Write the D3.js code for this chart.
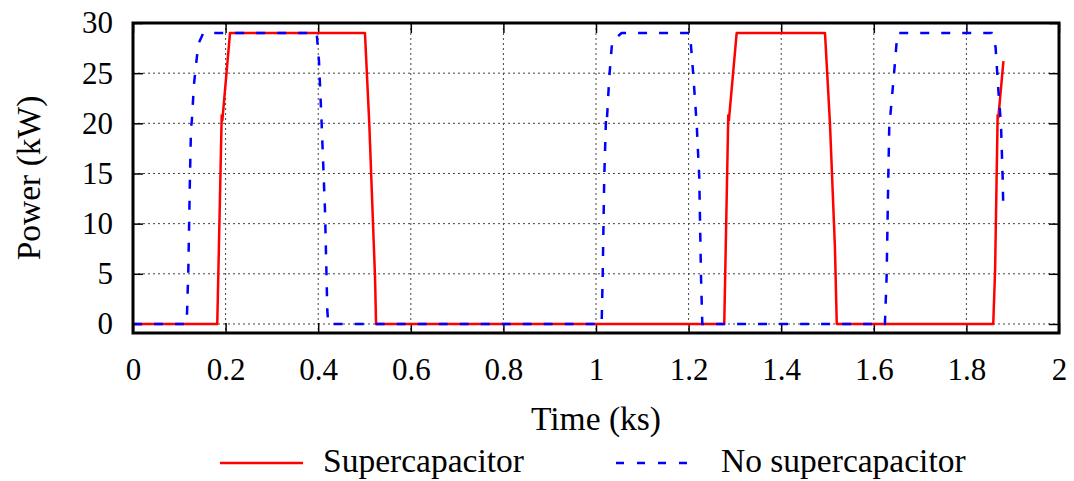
<!DOCTYPE html>
<html>
<head>
<meta charset="utf-8">
<script src="https://cdn.jsdelivr.net/npm/d3@7"></script>
<style>
  html, body { margin: 0; padding: 0; background: #fff; }
</style>
</head>
<body>
<svg id="chart" width="1074" height="481"></svg>
<script>
// ---- Data (time in ks, power in kW) ----
const superTime  = [0, 0.182, 0.1916, 0.193, 0.2095, 0.501, 0.5104, 0.5227, 0.525,
                    1.277, 1.2857, 1.287, 1.3038, 1.4946, 1.5054, 1.516, 1.52,
                    1.858, 1.862, 1.8675, 1.869, 1.88];
const superPower = [0, 0, 20.8, 20.3, 29, 29, 19.9, 4.7, 0,
                    0, 20.8, 20.3, 29, 29, 19.9, 7.7, 0,
                    0, 5.4, 20.8, 20.6, 26.2];

const noSuperTime  = [0, 0.116, 0.1195, 0.123, 0.1253, 0.127, 0.1317, 0.141, 0.152,
                      0.3967, 0.4017, 0.4075, 0.4147, 0.4197, 0.422,
                      1.0122, 1.0144, 1.0178, 1.0215, 1.023, 1.0287, 1.035, 1.0553,
                      1.203, 1.21, 1.2175, 1.223, 1.2268, 1.2296,
                      1.624, 1.6277, 1.6313, 1.6335, 1.635, 1.6436, 1.651,
                      1.8546, 1.863, 1.869, 1.8747, 1.8783, 1.8797];
const noSuperPower = [0, 0, 5.4, 14.6, 19.6, 20.2, 23.9, 27.9, 29,
                      29, 26.2, 19.9, 11.3, 1.3, 0,
                      0, 4.7, 14.6, 20.3, 19.9, 24.6, 28.2, 29,
                      29, 24.9, 19.9, 14.6, 4.7, 0,
                      0, 4.7, 14.6, 19.9, 20.4, 24.9, 29,
                      29, 27.6, 23.3, 19.9, 14.6, 11.5];

const xTicks = [0, 0.2, 0.4, 0.6, 0.8, 1, 1.2, 1.4, 1.6, 1.8, 2];
const yTicks = [0, 5, 10, 15, 20, 25, 30];
const seriesNames = ["Supercapacitor", "No supercapacitor"];
const xTitle = "Time (ks)";
const yTitle = "Power (kW)";

// ---- Layout ----
const FONT = "'Liberation Serif', 'Times New Roman', Tinos, 'Nimbus Roman', 'DejaVu Serif', serif";
const L = 133, R = 1059, T = 23, B = 333;
const svg = d3.select("#chart");
const x = d3.scaleLinear().domain([0, 2]).range([L, R]);
const y = d3.scaleLinear().domain([-0.9, 30]).range([B, T]);

// grid
const grid = svg.append("g");
grid.selectAll(".gx").data(xTicks.filter(d => d > 0 && d < 2)).enter().append("line")
  .attr("x1", d => x(d)).attr("x2", d => x(d)).attr("y1", T).attr("y2", B)
  .attr("stroke", "#444").attr("stroke-width", 1).attr("stroke-dasharray", "2,3");
grid.selectAll(".gy").data(yTicks.filter(d => d < 30)).enter().append("line")
  .attr("x1", L).attr("x2", R).attr("y1", d => y(d)).attr("y2", d => y(d))
  .attr("stroke", "#444").attr("stroke-width", 1).attr("stroke-dasharray", "2,3");

// axes (ticks inward)
const fs = 31;
const xAxis = svg.append("g").attr("transform", `translate(0,${B})`)
  .call(d3.axisBottom(x).tickValues(xTicks).tickFormat(d3.format("~g")).tickSize(-10).tickPadding(25));
const xTop = svg.append("g").attr("transform", `translate(0,${T})`)
  .call(d3.axisTop(x).tickValues(xTicks).tickSize(-10).tickFormat(""));
const yAxis = svg.append("g").attr("transform", `translate(${L},0)`)
  .call(d3.axisLeft(y).tickValues(yTicks).tickSize(-10).tickPadding(20));
const yRight = svg.append("g").attr("transform", `translate(${R},0)`)
  .call(d3.axisRight(y).tickValues(yTicks).tickSize(-10).tickFormat(""));
[xAxis, xTop, yAxis, yRight].forEach(g => {
  g.attr("font-family", null).attr("font-size", null);
  g.select(".domain").remove();
  g.selectAll(".tick line").attr("stroke", "#000").attr("stroke-width", 1.5);
  g.selectAll("text").style("font-size", fs + "px").style("font-family", FONT).attr("fill", "#000");
});

// series
const line = d3.line().x(d => x(d[0])).y(d => y(d[1]));
const superData = superTime.map((t, i) => [t, superPower[i]]);
const noSuperData = noSuperTime.map((t, i) => [t, noSuperPower[i]]);
const plot = svg.append("g");
plot.append("path").datum(superData).attr("d", line)
  .attr("fill", "none").attr("stroke", "#ff0000").attr("stroke-width", 2.5).attr("stroke-linejoin", "round");
plot.append("path").datum(noSuperData).attr("d", line)
  .attr("fill", "none").attr("stroke", "#0000ff").attr("stroke-width", 2.5).attr("stroke-dasharray", "9,12");

// frame
svg.append("rect").attr("x", L).attr("y", T).attr("width", R - L).attr("height", B - T)
  .attr("fill", "none").attr("stroke", "#000").attr("stroke-width", 3);

// titles
const txt = (sel) => sel.style("font-family", FONT).style("font-size", "33.5px").attr("fill", "#000");
svg.append("text").attr("x", (L + R) / 2).attr("y", 430).attr("text-anchor", "middle")
  .call(txt).text(xTitle);
svg.append("text").attr("transform", `translate(40,${(T + B) / 2}) rotate(-90)`)
  .attr("text-anchor", "middle").call(txt).text(yTitle);

// legend
const leg = svg.append("g");
leg.append("line").attr("x1", 220).attr("x2", 303).attr("y1", 463).attr("y2", 463)
  .attr("stroke", "#ff0000").attr("stroke-width", 2.5);
leg.append("text").attr("x", 323).attr("y", 472).call(txt).text(seriesNames[0]);
leg.append("line").attr("x1", 616).attr("x2", 690).attr("y1", 463).attr("y2", 463)
  .attr("stroke", "#0000ff").attr("stroke-width", 2.5).attr("stroke-dasharray", "8,13");
leg.append("text").attr("x", 721).attr("y", 472).call(txt).text(seriesNames[1]);
</script>
</body>
</html>
